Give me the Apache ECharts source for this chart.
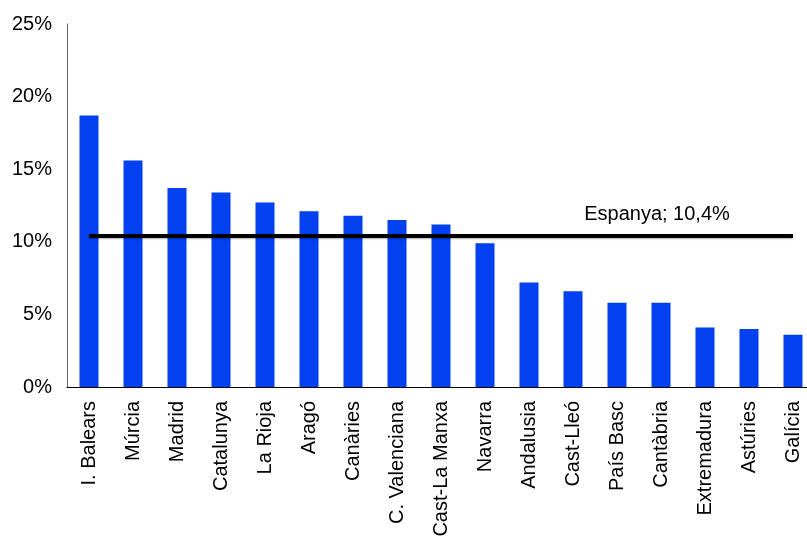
<!DOCTYPE html>
<html>
<head>
<meta charset="utf-8">
<script src="https://cdn.jsdelivr.net/npm/echarts@6/dist/echarts.min.js"></script>
<style>html,body{margin:0;padding:0;background:#fff;}#c{width:807px;height:536px;}</style>
</head>
<body>
<div id="c"></div>
<script>
var categories = ['I. Balears','Múrcia','Madrid','Catalunya','La Rioja','Aragó','Canàries','C. Valenciana','Cast-La Manxa','Navarra','Andalusia','Cast-Lleó','País Basc','Cantàbria','Extremadura','Astúries','Galícia'];
var values = [18.7,15.6,13.7,13.4,12.7,12.1,11.8,11.5,11.2,9.9,7.2,6.6,5.8,5.8,4.1,4.0,3.6];
var spainValue = 10.4;
var spainLabel = 'Espanya; 10,4%';
var labelIndex = 13;
var yTicks = {min:0, max:25, interval:5};

var FONT = 'Liberation Sans, Arial, sans-serif';
var spainLine = categories.map(function(c,i){
  var d = {value: spainValue};
  if (i === labelIndex) {
    d.label = {show:true, position:'top', distance:12, offset:[-4,0], formatter: spainLabel,
      fontFamily:FONT, fontSize:20, color:'#000'};
  }
  return d;
});

var chart = echarts.init(document.getElementById('c'), null, {renderer:'canvas'});
chart.setOption({
  animation:false,
  backgroundColor:'#fff',
  grid:{left:67, width:748, top:24, height:363, containLabel:false, outerBoundsMode:'none'},
  xAxis:{
    type:'category', data:categories,
    axisLine:{show:true, lineStyle:{color:'#000', width:1}},
    axisTick:{show:false},
    axisLabel:{rotate:90, interval:0, margin:14, color:'#000', fontSize:20, fontFamily:FONT}
  },
  yAxis:{
    type:'value', min:yTicks.min, max:yTicks.max, interval:yTicks.interval,
    axisLine:{show:true, lineStyle:{color:'#666', width:1}},
    axisTick:{show:false},
    splitLine:{show:false},
    axisLabel:{formatter:'{value}%', margin:15, color:'#000', fontSize:20, fontFamily:FONT}
  },
  series:[
    {type:'bar', data:values, barWidth:19, itemStyle:{color:'#0340F0'}},
    {type:'line', data:spainLine, symbol:'circle', symbolSize:0, showSymbol:true,
     itemStyle:{color:'#000'},
     lineStyle:{color:'#000', width:4, shadowColor:'rgba(0,0,0,0.3)', shadowBlur:2, shadowOffsetY:1}, z:5}
  ]
});
</script>
</body>
</html>
